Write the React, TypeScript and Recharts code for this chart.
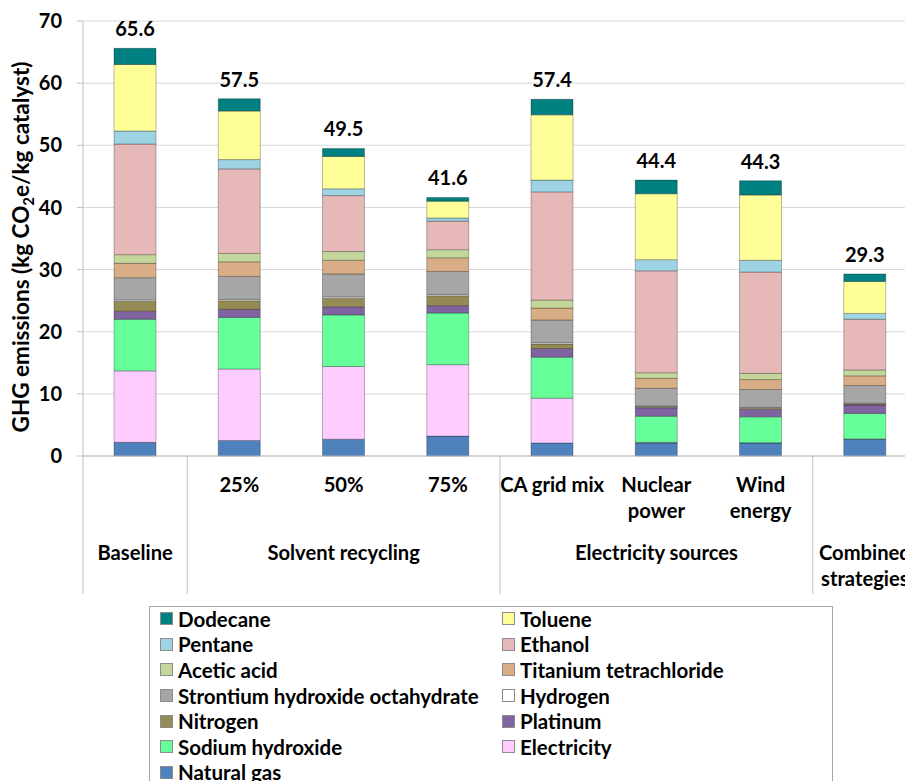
import React from 'react';
import { BarChart, Bar, XAxis, YAxis, CartesianGrid, Legend, LabelList } from 'recharts';

// scenario labels (first level) and scenario groups (second level)
const scenarioLabels: string[][] = [[], ['25%'], ['50%'], ['75%'], ['CA grid mix'], ['Nuclear', 'power'], ['Wind', 'energy'], []];
const groupNames: string[][] = [['Baseline'], ['Solvent recycling'], ['Electricity sources'], ['Combined', 'strategies']];
const groupSizes = [1, 3, 3, 1];
const yTicks = [0, 10, 20, 30, 40, 50, 60, 70];

// kg CO2e / kg catalyst, per scenario
const naturalGas = [2.2, 2.5, 2.7, 3.2, 2.1, 2.1, 2.1, 2.7];
const electricity = [11.5, 11.5, 11.7, 11.5, 7.2, 0.1, 0.05, 0.05];
const sodiumHydroxide = [8.3, 8.3, 8.3, 8.3, 6.6, 4.2, 4.15, 4.1];
const platinum = [1.3, 1.3, 1.3, 1.2, 1.4, 1.35, 1.2, 1.35];
const nitrogen = [1.6, 1.4, 1.4, 1.6, 0.75, 0.2, 0.2, 0.2];
const hydrogen = [0.2, 0.2, 0.2, 0.2, 0.2, 0.1, 0.1, 0.1];
const strontiumHydroxide = [3.6, 3.7, 3.7, 3.7, 3.65, 2.85, 2.9, 2.85];
const titaniumTetrachloride = [2.3, 2.35, 2.2, 2.2, 1.9, 1.6, 1.6, 1.55];
const aceticAcid = [1.4, 1.35, 1.4, 1.3, 1.3, 0.9, 1.0, 0.95];
const ethanol = [17.8, 13.6, 9.0, 4.6, 17.4, 16.4, 16.3, 8.15];
const pentane = [2.1, 1.5, 1.1, 0.5, 1.9, 1.8, 1.9, 0.95];
const toluene = [10.7, 7.8, 5.2, 2.7, 10.5, 10.6, 10.5, 5.15];
const dodecane = [2.6, 2.0, 1.3, 0.6, 2.5, 2.2, 2.3, 1.2];

// stacking order, bottom to top
const series = [
  { key: 'naturalGas', name: 'Natural gas', color: '#4F81BD', values: naturalGas },
  { key: 'electricity', name: 'Electricity', color: '#FFCCFF', values: electricity },
  { key: 'sodiumHydroxide', name: 'Sodium hydroxide', color: '#66FF99', values: sodiumHydroxide },
  { key: 'platinum', name: 'Platinum', color: '#8064A2', values: platinum },
  { key: 'nitrogen', name: 'Nitrogen', color: '#948A54', values: nitrogen },
  { key: 'hydrogen', name: 'Hydrogen', color: '#FFFFFF', values: hydrogen },
  { key: 'strontiumHydroxide', name: 'Strontium hydroxide octahydrate', color: '#A6A6A6', values: strontiumHydroxide },
  { key: 'titaniumTetrachloride', name: 'Titanium tetrachloride', color: '#D9AE86', values: titaniumTetrachloride },
  { key: 'aceticAcid', name: 'Acetic acid', color: '#C3D69B', values: aceticAcid },
  { key: 'ethanol', name: 'Ethanol', color: '#E6B9B8', values: ethanol },
  { key: 'pentane', name: 'Pentane', color: '#9DD3E2', values: pentane },
  { key: 'toluene', name: 'Toluene', color: '#FFFF99', values: toluene },
  { key: 'dodecane', name: 'Dodecane', color: '#008080', values: dodecane },
];

const data = scenarioLabels.map((_, i) => {
  const row: Record<string, number | string> = { id: String(i) };
  let total = 0;
  series.forEach((s) => {
    row[s.key] = s.values[i];
    total += s.values[i];
  });
  row.total = Math.round(total * 10) / 10;
  return row;
});

const FONT = "Lato, 'Open Sans', sans-serif";
const CHART_W = 936;
const CHART_H = 781;
const MARGIN = { top: 21, right: 19, left: 23, bottom: 185 };
const Y_AXIS_W = 60;
const BAND = (CHART_W - MARGIN.left - MARGIN.right - Y_AXIS_W) / scenarioLabels.length;

const groupStarts = groupSizes.map((_, g) => groupSizes.slice(0, g).reduce((a, b) => a + b, 0));

const CategoryTick = (props: any) => {
  const { x, y, payload } = props;
  const i = Number(payload.value);
  const g = groupStarts.indexOf(i);
  const textProps = { textAnchor: 'middle' as const, fontSize: 20.2, fontWeight: 700, fontFamily: FONT, fill: '#000' };
  return (
    <g>
      {scenarioLabels[i].map((line, k) => (
        <text key={k} x={x} y={y + 36 + k * 26} {...textProps}>{line}</text>
      ))}
      {g >= 0 && (
        <>
          <line x1={x - BAND / 2} x2={x - BAND / 2} y1={y} y2={y + 138} stroke="#bfbfbf" strokeWidth={1} />
          {groupNames[g].map((line, k) => (
            <text key={'g' + k} x={x - BAND / 2 + (groupSizes[g] * BAND) / 2} y={y + 104 + k * 26} {...textProps}>{line}</text>
          ))}
        </>
      )}
    </g>
  );
};

const AxisTitle = () => (
  <text transform="translate(29, 247) rotate(-90)" textAnchor="middle" fontSize={22.5} fontWeight={700} fontFamily={FONT} fill="#000">
    GHG emissions (kg CO<tspan dy={5} fontSize={15}>2</tspan><tspan dy={-5}>e/kg catalyst)</tspan>
  </text>
);

const TotalLabel = (props: any) => {
  const { x, y, width, value } = props;
  return (
    <text x={x + width / 2} y={y - 12} textAnchor="middle" fontSize={20} fontWeight={700} fontFamily={FONT} fill="#000">
      {Number(value).toFixed(1)}
    </text>
  );
};

const LegendBox = () => (
  <div
    style={{
      width: 684,
      height: 200,
      boxSizing: 'border-box',
      border: '1px solid #a6a6a6',
      background: '#fff',
      padding: '0 0 0 10px',
      display: 'grid',
      gridTemplateColumns: '342px 1fr',
      gridAutoRows: '25.6px',
      fontFamily: FONT,
      fontSize: 20.5,
      fontWeight: 700,
      color: '#000',
    }}
  >
    {[...series].reverse().map((s) => (
      <div key={s.key} style={{ display: 'flex', alignItems: 'center', whiteSpace: 'nowrap', marginTop: -2 }}>
        <span style={{ width: 13, height: 13, boxSizing: 'border-box', background: s.color, border: '1px solid #8c8c8c', marginRight: 5, flex: 'none' }} />
        <span>{s.name}</span>
      </div>
    ))}
  </div>
);

export default function App() {
  return (
    <div style={{ position: 'absolute', left: 0, top: 0, width: 905, height: 781, overflow: 'hidden', background: '#fff' }}>
      <BarChart width={CHART_W} height={CHART_H} data={data} margin={MARGIN} barSize={42}>
        <CartesianGrid vertical={false} stroke="#d9d9d9" />
        <XAxis
          dataKey="id"
          height={140}
          interval={0}
          tickSize={0}
          tickMargin={0}
          tickLine={false}
          axisLine={{ stroke: '#bfbfbf' }}
          tick={<CategoryTick />}
        />
        <YAxis
          width={Y_AXIS_W}
          domain={[0, 70]}
          ticks={yTicks}
          tickSize={6}
          tickMargin={15}
          tickLine={{ stroke: '#bfbfbf' }}
          axisLine={{ stroke: '#bfbfbf' }}
          tick={{ fontSize: 20, fontWeight: 700, fontFamily: FONT, fill: '#000' }}
          label={{ content: () => <AxisTitle /> }}
        />
        <Legend
          layout="vertical"
          align="center"
          verticalAlign="middle"
          content={() => <LegendBox />}
          wrapperStyle={{ left: 149, top: 606, width: 684, height: 200 }}
        />
        {series.map((s, idx) => (
          <Bar
            key={s.key}
            dataKey={s.key}
            name={s.name}
            stackId="ghg"
            fill={s.color}
            stroke="rgba(0,0,0,0.35)"
            strokeWidth={0.8}
            isAnimationActive={false}
          >
            {idx === series.length - 1 && <LabelList dataKey="total" content={<TotalLabel />} />}
          </Bar>
        ))}
      </BarChart>
    </div>
  );
}
